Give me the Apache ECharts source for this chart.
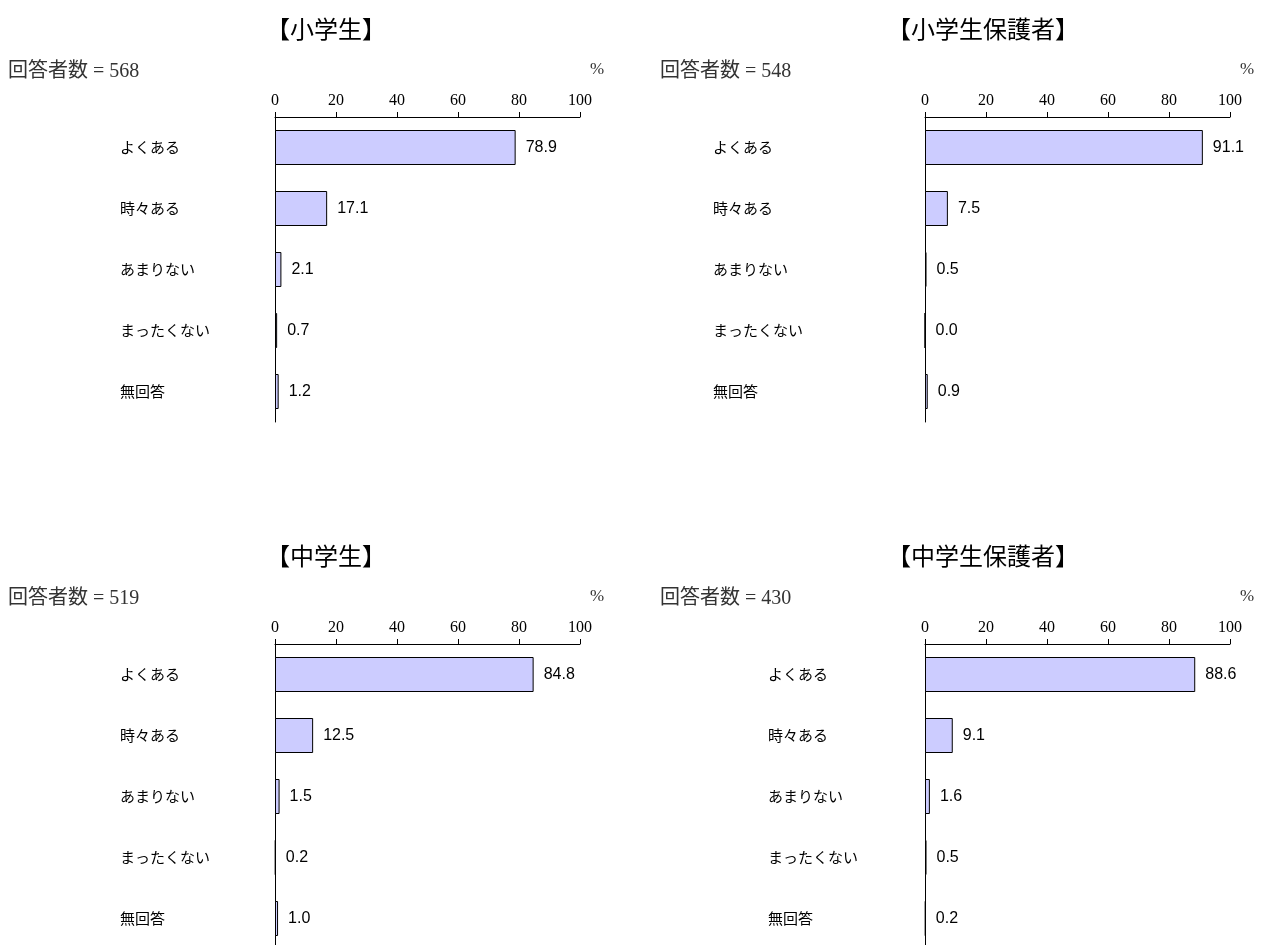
<!DOCTYPE html>
<html>
<head>
<meta charset="utf-8">
<script src="https://cdn.jsdelivr.net/npm/echarts@6/dist/echarts.min.js"></script>
<style>
html,body{margin:0;padding:0;background:#fff;}
#chart{width:1268px;height:945px;}
</style>
</head>
<body>
<div id="chart"></div>
<script>
// ---- data ----
const categories = ['よくある', '時々ある', 'あまりない', 'まったくない', '無回答'];
const panelTitles = ['【小学生】', '【小学生保護者】', '【中学生】', '【中学生保護者】'];
const respondentCounts = [568, 548, 519, 430];
const valuesElementary = [78.9, 17.1, 2.1, 0.7, 1.2];
const valuesElementaryParents = [91.1, 7.5, 0.5, 0.0, 0.9];
const valuesJunior = [84.8, 12.5, 1.5, 0.2, 1.0];
const valuesJuniorParents = [88.6, 9.1, 1.6, 0.5, 0.2];
const axisMin = 0, axisMax = 100, axisInterval = 20;
const unitLabel = '%';
const countPrefix = '回答者数 = ';

// ---- layout ----
const panelValues = [valuesElementary, valuesElementaryParents, valuesJunior, valuesJuniorParents];
const layout = [
  {left: 275, top: 117, labelMargin: 155, titleX: 326, titleY: 29, countX: 8, countY: 72, pctX: 597, pctY: 70},
  {left: 925, top: 117, labelMargin: 212, titleX: 983, titleY: 29, countX: 660, countY: 72, pctX: 1247, pctY: 70},
  {left: 275, top: 644, labelMargin: 155, titleX: 326, titleY: 556, countX: 8, countY: 599, pctX: 597, pctY: 597},
  {left: 925, top: 644, labelMargin: 157, titleX: 983, titleY: 556, countX: 660, countY: 599, pctX: 1247, pctY: 597}
];
const serif = '"Liberation Serif", "Noto Sans CJK JP", serif';
const sans = '"Noto Sans CJK JP", sans-serif';
const numFont = '"Liberation Sans", Arial, sans-serif';

const grids = [], xAxes = [], yAxes = [], series = [], graphics = [];
layout.forEach((L, i) => {
  grids.push({left: L.left, top: L.top, width: 305, height: 305, containLabel: false, outerBoundsMode: 'none'});
  xAxes.push({
    type: 'value', gridIndex: i, position: 'top', min: axisMin, max: axisMax, interval: axisInterval,
    axisLine: {show: true, lineStyle: {color: '#000', width: 1}},
    axisTick: {show: true, length: 5, lineStyle: {color: '#000', width: 1}},
    axisLabel: {color: '#000', fontFamily: serif, fontSize: 16, margin: 8},
    splitLine: {show: false}
  });
  yAxes.push({
    type: 'category', gridIndex: i, data: categories, inverse: true,
    axisLine: {show: true, lineStyle: {color: '#000', width: 1}},
    axisTick: {show: false},
    axisLabel: {color: '#000', fontFamily: sans, fontSize: 15, align: 'left', margin: L.labelMargin}
  });
  series.push({
    type: 'bar', xAxisIndex: i, yAxisIndex: i, data: panelValues[i], barWidth: 35,
    itemStyle: {color: '#CCCCFF', borderColor: '#000', borderWidth: 1},
    label: {show: true, position: 'right', distance: 10, color: '#000', fontFamily: numFont, fontSize: 16,
      formatter: p => Number(p.value).toFixed(1)},
    emphasis: {disabled: true}, animation: false
  });
  graphics.push({type: 'text', x: L.titleX, y: L.titleY,
    style: {text: panelTitles[i], font: '24px ' + sans, fill: '#000', textAlign: 'center', textVerticalAlign: 'middle', align: 'center', verticalAlign: 'middle'}});
  graphics.push({type: 'text', x: L.countX, y: L.countY,
    style: {text: countPrefix + respondentCounts[i], font: '20px ' + serif, fill: '#333', textAlign: 'left', textVerticalAlign: 'middle', align: 'left', verticalAlign: 'middle'}});
  graphics.push({type: 'text', x: L.pctX, y: L.pctY,
    style: {text: unitLabel, font: '17px ' + serif, fill: '#333', textAlign: 'center', textVerticalAlign: 'middle', align: 'center', verticalAlign: 'middle'}});
});

const chart = echarts.init(document.getElementById('chart'), null, {renderer: 'canvas'});
chart.setOption({
  animation: false,
  backgroundColor: '#fff',
  grid: grids, xAxis: xAxes, yAxis: yAxes, series: series,
  graphic: {elements: graphics}
});
</script>
</body>
</html>
